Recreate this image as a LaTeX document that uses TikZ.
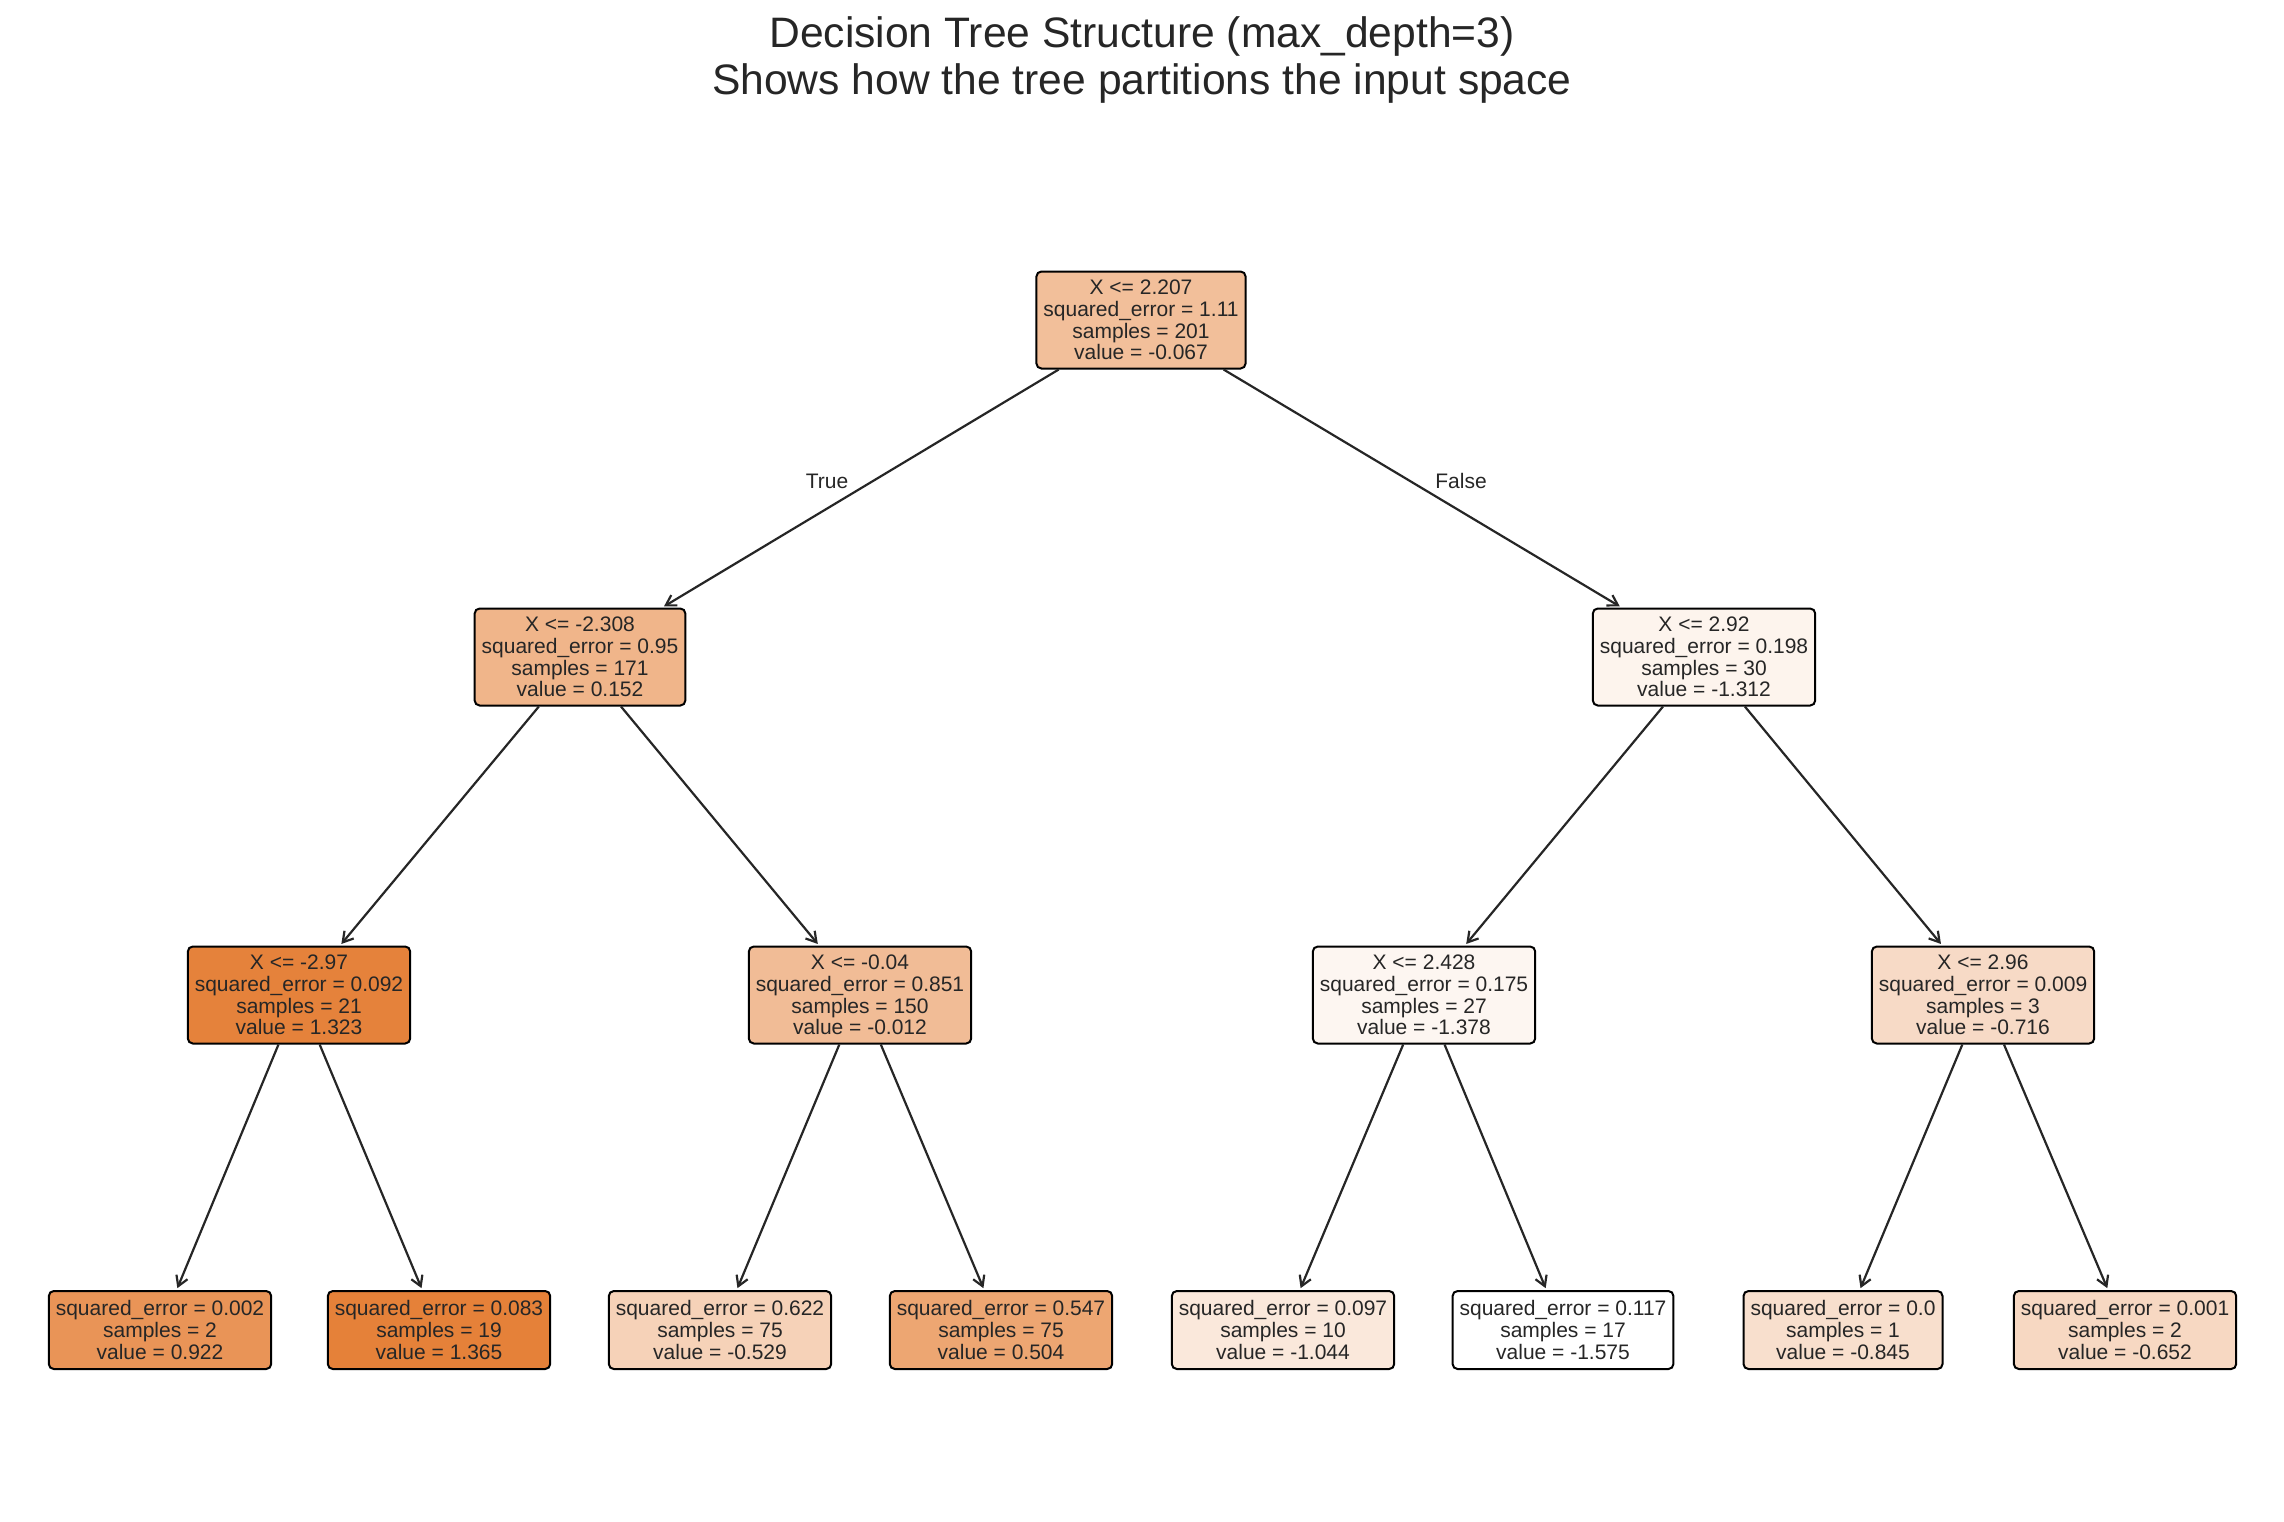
\documentclass[tikz,border=0pt]{standalone}
\usepackage{fontspec}
\setmainfont{Liberation Sans}
\usetikzlibrary{arrows.meta}
\definecolor{treeorange}{HTML}{E58139}
\definecolor{ink}{HTML}{262626}

\begin{document}
\begin{tikzpicture}[x=0.5pt,y=-0.5pt,>={Straight Barb[length=5pt,width=6pt]},
  box/.style={draw=black,line width=1pt,rounded corners=2.5pt,align=center,text=ink,
    inner xsep=3.5pt,inner ysep=0pt,font=\fontsize{10.5}{10.85}\selectfont},
  split/.style={box,minimum height=48.5pt},
  leaf/.style={box,minimum height=39pt},
  edge/.style={->,draw=ink,line width=1.1pt,shorten >=1pt}]
\useasboundingbox (0,0) rectangle (2284,1521);
\node[text=ink,align=center,font=\fontsize{21.3}{23.5}\selectfont] (title) at (1142,60)
  {Decision Tree Structure (max\_depth=3)\\Shows how the tree partitions the input space};
% depth 0 and 1
\node[split,fill=treeorange!51!white] (n0) at (1141,320) {X <= 2.207\\squared\_error = 1.11\\samples = 201\\value = -0.067};
\node[split,fill=treeorange!59!white] (n1) at (580,657) {X <= -2.308\\squared\_error = 0.95\\samples = 171\\value = 0.152};
\node[split,fill=treeorange!9!white] (n8) at (1704,657) {X <= 2.92\\squared\_error = 0.198\\samples = 30\\value = -1.312};
% depth 2
\node[split,fill=treeorange!99!white] (n2) at (299,995) {X <= -2.97\\squared\_error = 0.092\\samples = 21\\value = 1.323};
\node[split,fill=treeorange!53!white] (n5) at (860,995) {X <= -0.04\\squared\_error = 0.851\\samples = 150\\value = -0.012};
\node[split,fill=treeorange!7!white] (n9) at (1424,995) {X <= 2.428\\squared\_error = 0.175\\samples = 27\\value = -1.378};
\node[split,fill=treeorange!29!white] (n12) at (1983,995) {X <= 2.96\\squared\_error = 0.009\\samples = 3\\value = -0.716};
% leaves
\node[leaf,fill=treeorange!85!white] (n3) at (160,1330) {squared\_error = 0.002\\samples = 2\\value = 0.922};
\node[leaf,fill=treeorange] (n4) at (439,1330) {squared\_error = 0.083\\samples = 19\\value = 1.365};
\node[leaf,fill=treeorange!36!white] (n6) at (720,1330) {squared\_error = 0.622\\samples = 75\\value = -0.529};
\node[leaf,fill=treeorange!71!white] (n7) at (1001,1330) {squared\_error = 0.547\\samples = 75\\value = 0.504};
\node[leaf,fill=treeorange!18!white] (n10) at (1283,1330) {squared\_error = 0.097\\samples = 10\\value = -1.044};
\node[leaf,fill=white] (n11) at (1563,1330) {squared\_error = 0.117\\samples = 17\\value = -1.575};
\node[leaf,fill=treeorange!25!white] (n13) at (1843,1330) {squared\_error = 0.0\\samples = 1\\value = -0.845};
\node[leaf,fill=treeorange!31!white] (n14) at (2125,1330) {squared\_error = 0.001\\samples = 2\\value = -0.652};
% connectors
\draw[edge] (n0) -- (n1);
\draw[edge] (n0) -- (n8);
\draw[edge] (n1) -- (n2);
\draw[edge] (n1) -- (n5);
\draw[edge] (n2) -- (n3);
\draw[edge] (n2) -- (n4);
\draw[edge] (n5) -- (n6);
\draw[edge] (n5) -- (n7);
\draw[edge] (n8) -- (n9);
\draw[edge] (n8) -- (n12);
\draw[edge] (n9) -- (n10);
\draw[edge] (n9) -- (n11);
\draw[edge] (n12) -- (n13);
\draw[edge] (n12) -- (n14);
\node[text=ink,font=\fontsize{10.5}{10.85}\selectfont] (truelbl) at (827,481) {True};
\node[text=ink,font=\fontsize{10.5}{10.85}\selectfont] (falselbl) at (1461,481) {False};
\end{tikzpicture}
\end{document}
